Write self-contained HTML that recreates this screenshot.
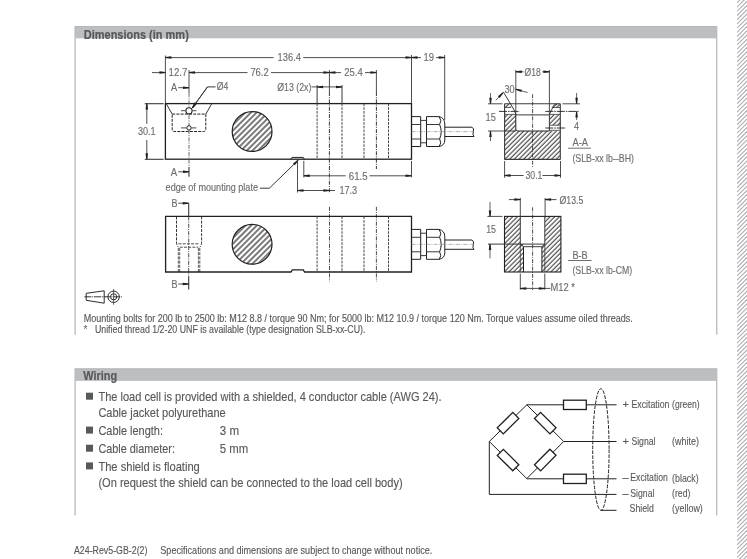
<!DOCTYPE html>
<html><head><meta charset="utf-8"><style>
html,body{margin:0;padding:0;background:#fff;}
svg{display:block;font-family:"Liberation Sans",sans-serif;will-change:transform;}
</style></head><body>
<svg width="747" height="559" viewBox="0 0 747 559">
<defs>
<pattern id="hatch" patternUnits="userSpaceOnUse" width="4" height="4" patternTransform="rotate(45)">
<line x1="1" y1="0" x2="1" y2="4" stroke="#231f20" stroke-width="1.2"/>
</pattern>
<pattern id="hatch2" patternUnits="userSpaceOnUse" width="3.3" height="3.3" patternTransform="rotate(45)">
<line x1="1" y1="0" x2="1" y2="3.3" stroke="#231f20" stroke-width="0.95"/>
</pattern>
<clipPath id="cs"><rect x="737" y="0" width="10" height="559"/></clipPath>
</defs>
<rect x="0" y="0" width="747" height="559" fill="#fff"/>
<g clip-path="url(#cs)"><line x1="737" y1="-9.6" x2="749" y2="-21.6" stroke="#a9abae" stroke-width="1.05"/><line x1="737" y1="-5.4" x2="749" y2="-17.4" stroke="#a9abae" stroke-width="1.05"/><line x1="737" y1="-1.2" x2="749" y2="-13.2" stroke="#a9abae" stroke-width="1.05"/><line x1="737" y1="3" x2="749" y2="-9" stroke="#a9abae" stroke-width="1.05"/><line x1="737" y1="7.2" x2="749" y2="-4.8" stroke="#a9abae" stroke-width="1.05"/><line x1="737" y1="11.4" x2="749" y2="-0.6" stroke="#a9abae" stroke-width="1.05"/><line x1="737" y1="15.6" x2="749" y2="3.6" stroke="#a9abae" stroke-width="1.05"/><line x1="737" y1="19.8" x2="749" y2="7.8" stroke="#a9abae" stroke-width="1.05"/><line x1="737" y1="24" x2="749" y2="12" stroke="#a9abae" stroke-width="1.05"/><line x1="737" y1="28.2" x2="749" y2="16.2" stroke="#a9abae" stroke-width="1.05"/><line x1="737" y1="32.4" x2="749" y2="20.4" stroke="#a9abae" stroke-width="1.05"/><line x1="737" y1="36.6" x2="749" y2="24.6" stroke="#a9abae" stroke-width="1.05"/><line x1="737" y1="40.8" x2="749" y2="28.8" stroke="#a9abae" stroke-width="1.05"/><line x1="737" y1="45" x2="749" y2="33" stroke="#a9abae" stroke-width="1.05"/><line x1="737" y1="49.2" x2="749" y2="37.2" stroke="#a9abae" stroke-width="1.05"/><line x1="737" y1="53.4" x2="749" y2="41.4" stroke="#a9abae" stroke-width="1.05"/><line x1="737" y1="57.6" x2="749" y2="45.6" stroke="#a9abae" stroke-width="1.05"/><line x1="737" y1="61.8" x2="749" y2="49.8" stroke="#a9abae" stroke-width="1.05"/><line x1="737" y1="66" x2="749" y2="54" stroke="#a9abae" stroke-width="1.05"/><line x1="737" y1="70.2" x2="749" y2="58.2" stroke="#a9abae" stroke-width="1.05"/><line x1="737" y1="74.4" x2="749" y2="62.4" stroke="#a9abae" stroke-width="1.05"/><line x1="737" y1="78.6" x2="749" y2="66.6" stroke="#a9abae" stroke-width="1.05"/><line x1="737" y1="82.8" x2="749" y2="70.8" stroke="#a9abae" stroke-width="1.05"/><line x1="737" y1="87" x2="749" y2="75" stroke="#a9abae" stroke-width="1.05"/><line x1="737" y1="91.2" x2="749" y2="79.2" stroke="#a9abae" stroke-width="1.05"/><line x1="737" y1="95.4" x2="749" y2="83.4" stroke="#a9abae" stroke-width="1.05"/><line x1="737" y1="99.6" x2="749" y2="87.6" stroke="#a9abae" stroke-width="1.05"/><line x1="737" y1="103.8" x2="749" y2="91.8" stroke="#a9abae" stroke-width="1.05"/><line x1="737" y1="108" x2="749" y2="96" stroke="#a9abae" stroke-width="1.05"/><line x1="737" y1="112.2" x2="749" y2="100.2" stroke="#a9abae" stroke-width="1.05"/><line x1="737" y1="116.4" x2="749" y2="104.4" stroke="#a9abae" stroke-width="1.05"/><line x1="737" y1="120.6" x2="749" y2="108.6" stroke="#a9abae" stroke-width="1.05"/><line x1="737" y1="124.8" x2="749" y2="112.8" stroke="#a9abae" stroke-width="1.05"/><line x1="737" y1="129" x2="749" y2="117" stroke="#a9abae" stroke-width="1.05"/><line x1="737" y1="133.2" x2="749" y2="121.2" stroke="#a9abae" stroke-width="1.05"/><line x1="737" y1="137.4" x2="749" y2="125.4" stroke="#a9abae" stroke-width="1.05"/><line x1="737" y1="141.6" x2="749" y2="129.6" stroke="#a9abae" stroke-width="1.05"/><line x1="737" y1="145.8" x2="749" y2="133.8" stroke="#a9abae" stroke-width="1.05"/><line x1="737" y1="150" x2="749" y2="138" stroke="#a9abae" stroke-width="1.05"/><line x1="737" y1="154.2" x2="749" y2="142.2" stroke="#a9abae" stroke-width="1.05"/><line x1="737" y1="158.4" x2="749" y2="146.4" stroke="#a9abae" stroke-width="1.05"/><line x1="737" y1="162.6" x2="749" y2="150.6" stroke="#a9abae" stroke-width="1.05"/><line x1="737" y1="166.8" x2="749" y2="154.8" stroke="#a9abae" stroke-width="1.05"/><line x1="737" y1="171" x2="749" y2="159" stroke="#a9abae" stroke-width="1.05"/><line x1="737" y1="175.2" x2="749" y2="163.2" stroke="#a9abae" stroke-width="1.05"/><line x1="737" y1="179.4" x2="749" y2="167.4" stroke="#a9abae" stroke-width="1.05"/><line x1="737" y1="183.6" x2="749" y2="171.6" stroke="#a9abae" stroke-width="1.05"/><line x1="737" y1="187.8" x2="749" y2="175.8" stroke="#a9abae" stroke-width="1.05"/><line x1="737" y1="192" x2="749" y2="180" stroke="#a9abae" stroke-width="1.05"/><line x1="737" y1="196.2" x2="749" y2="184.2" stroke="#a9abae" stroke-width="1.05"/><line x1="737" y1="200.4" x2="749" y2="188.4" stroke="#a9abae" stroke-width="1.05"/><line x1="737" y1="204.6" x2="749" y2="192.6" stroke="#a9abae" stroke-width="1.05"/><line x1="737" y1="208.8" x2="749" y2="196.8" stroke="#a9abae" stroke-width="1.05"/><line x1="737" y1="213" x2="749" y2="201" stroke="#a9abae" stroke-width="1.05"/><line x1="737" y1="217.2" x2="749" y2="205.2" stroke="#a9abae" stroke-width="1.05"/><line x1="737" y1="221.4" x2="749" y2="209.4" stroke="#a9abae" stroke-width="1.05"/><line x1="737" y1="225.6" x2="749" y2="213.6" stroke="#a9abae" stroke-width="1.05"/><line x1="737" y1="229.8" x2="749" y2="217.8" stroke="#a9abae" stroke-width="1.05"/><line x1="737" y1="234" x2="749" y2="222" stroke="#a9abae" stroke-width="1.05"/><line x1="737" y1="238.2" x2="749" y2="226.2" stroke="#a9abae" stroke-width="1.05"/><line x1="737" y1="242.4" x2="749" y2="230.4" stroke="#a9abae" stroke-width="1.05"/><line x1="737" y1="246.6" x2="749" y2="234.6" stroke="#a9abae" stroke-width="1.05"/><line x1="737" y1="250.8" x2="749" y2="238.8" stroke="#a9abae" stroke-width="1.05"/><line x1="737" y1="255" x2="749" y2="243" stroke="#a9abae" stroke-width="1.05"/><line x1="737" y1="259.2" x2="749" y2="247.2" stroke="#a9abae" stroke-width="1.05"/><line x1="737" y1="263.4" x2="749" y2="251.4" stroke="#a9abae" stroke-width="1.05"/><line x1="737" y1="267.6" x2="749" y2="255.6" stroke="#a9abae" stroke-width="1.05"/><line x1="737" y1="271.8" x2="749" y2="259.8" stroke="#a9abae" stroke-width="1.05"/><line x1="737" y1="276" x2="749" y2="264" stroke="#a9abae" stroke-width="1.05"/><line x1="737" y1="280.2" x2="749" y2="268.2" stroke="#a9abae" stroke-width="1.05"/><line x1="737" y1="284.4" x2="749" y2="272.4" stroke="#a9abae" stroke-width="1.05"/><line x1="737" y1="288.6" x2="749" y2="276.6" stroke="#a9abae" stroke-width="1.05"/><line x1="737" y1="292.8" x2="749" y2="280.8" stroke="#a9abae" stroke-width="1.05"/><line x1="737" y1="297" x2="749" y2="285" stroke="#a9abae" stroke-width="1.05"/><line x1="737" y1="301.2" x2="749" y2="289.2" stroke="#a9abae" stroke-width="1.05"/><line x1="737" y1="305.4" x2="749" y2="293.4" stroke="#a9abae" stroke-width="1.05"/><line x1="737" y1="309.6" x2="749" y2="297.6" stroke="#a9abae" stroke-width="1.05"/><line x1="737" y1="313.8" x2="749" y2="301.8" stroke="#a9abae" stroke-width="1.05"/><line x1="737" y1="318" x2="749" y2="306" stroke="#a9abae" stroke-width="1.05"/><line x1="737" y1="322.2" x2="749" y2="310.2" stroke="#a9abae" stroke-width="1.05"/><line x1="737" y1="326.4" x2="749" y2="314.4" stroke="#a9abae" stroke-width="1.05"/><line x1="737" y1="330.6" x2="749" y2="318.6" stroke="#a9abae" stroke-width="1.05"/><line x1="737" y1="334.8" x2="749" y2="322.8" stroke="#a9abae" stroke-width="1.05"/><line x1="737" y1="339" x2="749" y2="327" stroke="#a9abae" stroke-width="1.05"/><line x1="737" y1="343.2" x2="749" y2="331.2" stroke="#a9abae" stroke-width="1.05"/><line x1="737" y1="347.4" x2="749" y2="335.4" stroke="#a9abae" stroke-width="1.05"/><line x1="737" y1="351.6" x2="749" y2="339.6" stroke="#a9abae" stroke-width="1.05"/><line x1="737" y1="355.8" x2="749" y2="343.8" stroke="#a9abae" stroke-width="1.05"/><line x1="737" y1="360" x2="749" y2="348" stroke="#a9abae" stroke-width="1.05"/><line x1="737" y1="364.2" x2="749" y2="352.2" stroke="#a9abae" stroke-width="1.05"/><line x1="737" y1="368.4" x2="749" y2="356.4" stroke="#a9abae" stroke-width="1.05"/><line x1="737" y1="372.6" x2="749" y2="360.6" stroke="#a9abae" stroke-width="1.05"/><line x1="737" y1="376.8" x2="749" y2="364.8" stroke="#a9abae" stroke-width="1.05"/><line x1="737" y1="381" x2="749" y2="369" stroke="#a9abae" stroke-width="1.05"/><line x1="737" y1="385.2" x2="749" y2="373.2" stroke="#a9abae" stroke-width="1.05"/><line x1="737" y1="389.4" x2="749" y2="377.4" stroke="#a9abae" stroke-width="1.05"/><line x1="737" y1="393.6" x2="749" y2="381.6" stroke="#a9abae" stroke-width="1.05"/><line x1="737" y1="397.8" x2="749" y2="385.8" stroke="#a9abae" stroke-width="1.05"/><line x1="737" y1="402" x2="749" y2="390" stroke="#a9abae" stroke-width="1.05"/><line x1="737" y1="406.2" x2="749" y2="394.2" stroke="#a9abae" stroke-width="1.05"/><line x1="737" y1="410.4" x2="749" y2="398.4" stroke="#a9abae" stroke-width="1.05"/><line x1="737" y1="414.6" x2="749" y2="402.6" stroke="#a9abae" stroke-width="1.05"/><line x1="737" y1="418.8" x2="749" y2="406.8" stroke="#a9abae" stroke-width="1.05"/><line x1="737" y1="423" x2="749" y2="411" stroke="#a9abae" stroke-width="1.05"/><line x1="737" y1="427.2" x2="749" y2="415.2" stroke="#a9abae" stroke-width="1.05"/><line x1="737" y1="431.4" x2="749" y2="419.4" stroke="#a9abae" stroke-width="1.05"/><line x1="737" y1="435.6" x2="749" y2="423.6" stroke="#a9abae" stroke-width="1.05"/><line x1="737" y1="439.8" x2="749" y2="427.8" stroke="#a9abae" stroke-width="1.05"/><line x1="737" y1="444" x2="749" y2="432" stroke="#a9abae" stroke-width="1.05"/><line x1="737" y1="448.2" x2="749" y2="436.2" stroke="#a9abae" stroke-width="1.05"/><line x1="737" y1="452.4" x2="749" y2="440.4" stroke="#a9abae" stroke-width="1.05"/><line x1="737" y1="456.6" x2="749" y2="444.6" stroke="#a9abae" stroke-width="1.05"/><line x1="737" y1="460.8" x2="749" y2="448.8" stroke="#a9abae" stroke-width="1.05"/><line x1="737" y1="465" x2="749" y2="453" stroke="#a9abae" stroke-width="1.05"/><line x1="737" y1="469.2" x2="749" y2="457.2" stroke="#a9abae" stroke-width="1.05"/><line x1="737" y1="473.4" x2="749" y2="461.4" stroke="#a9abae" stroke-width="1.05"/><line x1="737" y1="477.6" x2="749" y2="465.6" stroke="#a9abae" stroke-width="1.05"/><line x1="737" y1="481.8" x2="749" y2="469.8" stroke="#a9abae" stroke-width="1.05"/><line x1="737" y1="486" x2="749" y2="474" stroke="#a9abae" stroke-width="1.05"/><line x1="737" y1="490.2" x2="749" y2="478.2" stroke="#a9abae" stroke-width="1.05"/><line x1="737" y1="494.4" x2="749" y2="482.4" stroke="#a9abae" stroke-width="1.05"/><line x1="737" y1="498.6" x2="749" y2="486.6" stroke="#a9abae" stroke-width="1.05"/><line x1="737" y1="502.8" x2="749" y2="490.8" stroke="#a9abae" stroke-width="1.05"/><line x1="737" y1="507" x2="749" y2="495" stroke="#a9abae" stroke-width="1.05"/><line x1="737" y1="511.2" x2="749" y2="499.2" stroke="#a9abae" stroke-width="1.05"/><line x1="737" y1="515.4" x2="749" y2="503.4" stroke="#a9abae" stroke-width="1.05"/><line x1="737" y1="519.6" x2="749" y2="507.6" stroke="#a9abae" stroke-width="1.05"/><line x1="737" y1="523.8" x2="749" y2="511.8" stroke="#a9abae" stroke-width="1.05"/><line x1="737" y1="528" x2="749" y2="516" stroke="#a9abae" stroke-width="1.05"/><line x1="737" y1="532.2" x2="749" y2="520.2" stroke="#a9abae" stroke-width="1.05"/><line x1="737" y1="536.4" x2="749" y2="524.4" stroke="#a9abae" stroke-width="1.05"/><line x1="737" y1="540.6" x2="749" y2="528.6" stroke="#a9abae" stroke-width="1.05"/><line x1="737" y1="544.8" x2="749" y2="532.8" stroke="#a9abae" stroke-width="1.05"/><line x1="737" y1="549" x2="749" y2="537" stroke="#a9abae" stroke-width="1.05"/><line x1="737" y1="553.2" x2="749" y2="541.2" stroke="#a9abae" stroke-width="1.05"/><line x1="737" y1="557.4" x2="749" y2="545.4" stroke="#a9abae" stroke-width="1.05"/><line x1="737" y1="561.6" x2="749" y2="549.6" stroke="#a9abae" stroke-width="1.05"/><line x1="737" y1="565.8" x2="749" y2="553.8" stroke="#a9abae" stroke-width="1.05"/><line x1="737" y1="570" x2="749" y2="558" stroke="#a9abae" stroke-width="1.05"/><line x1="737" y1="574.2" x2="749" y2="562.2" stroke="#a9abae" stroke-width="1.05"/><line x1="737" y1="578.4" x2="749" y2="566.4" stroke="#a9abae" stroke-width="1.05"/><line x1="737" y1="582.6" x2="749" y2="570.6" stroke="#a9abae" stroke-width="1.05"/></g>
<rect x="75" y="26" width="642" height="12.3" fill="#bcbec0"/>
<line x1="75.1" y1="26" x2="75.1" y2="334.8" stroke="#bcbec0" stroke-width="1.4" stroke-linecap="butt"/>
<line x1="716.7" y1="26" x2="716.7" y2="334.8" stroke="#bcbec0" stroke-width="1.4" stroke-linecap="butt"/>
<line x1="75" y1="26.5" x2="717" y2="26.5" stroke="#b5b7ba" stroke-width="1" stroke-linecap="butt"/>
<text x="83.8" y="38.8" font-size="13.2" fill="#58595b" font-weight="bold" text-anchor="start" textLength="105" lengthAdjust="spacingAndGlyphs" stroke="#58595b" stroke-width="0.2">Dimensions (in mm)</text>
<rect x="75" y="368.4" width="642" height="12.5" fill="#bcbec0"/>
<line x1="75.1" y1="368.4" x2="75.1" y2="515.5" stroke="#bcbec0" stroke-width="1.4" stroke-linecap="butt"/>
<line x1="716.7" y1="368.4" x2="716.7" y2="515.5" stroke="#bcbec0" stroke-width="1.4" stroke-linecap="butt"/>
<line x1="75" y1="368.9" x2="717" y2="368.9" stroke="#b5b7ba" stroke-width="1" stroke-linecap="butt"/>
<text x="83.3" y="380.3" font-size="13.4" fill="#58595b" font-weight="bold" text-anchor="start" textLength="33.9" lengthAdjust="spacingAndGlyphs" stroke="#58595b" stroke-width="0.2">Wiring</text>
<rect x="165.4" y="103.6" width="246.1" height="55.6" fill="none" stroke="#231f20" stroke-width="1.3"/>
<circle cx="252.1" cy="131.5" r="19.9" fill="url(#hatch)" stroke="#231f20" stroke-width="1.2"/>
<line x1="317.1" y1="103.6" x2="317.1" y2="159.2" stroke="#454547" stroke-width="1.0" stroke-dasharray="2.6,1.1" stroke-linecap="butt"/>
<line x1="342" y1="103.6" x2="342" y2="159.2" stroke="#454547" stroke-width="1.0" stroke-dasharray="2.6,1.1" stroke-linecap="butt"/>
<line x1="364" y1="103.6" x2="364" y2="159.2" stroke="#454547" stroke-width="1.0" stroke-dasharray="2.6,1.1" stroke-linecap="butt"/>
<line x1="388.5" y1="103.6" x2="388.5" y2="159.2" stroke="#454547" stroke-width="1.0" stroke-dasharray="2.6,1.1" stroke-linecap="butt"/>
<polyline points="411.5,116.6 420.7,116.6 420.7,146.5 411.5,146.5" fill="none" stroke="#231f20" stroke-width="1.0" stroke-linejoin="miter"/>
<line x1="411.5" y1="124.5" x2="420.7" y2="124.5" stroke="#3a3a3c" stroke-width="1.0" stroke-linecap="butt"/>
<line x1="411.5" y1="139" x2="420.7" y2="139" stroke="#3a3a3c" stroke-width="1.0" stroke-linecap="butt"/>
<line x1="420.7" y1="120.4" x2="426.5" y2="120.4" stroke="#3a3a3c" stroke-width="1.0" stroke-linecap="butt"/>
<line x1="420.7" y1="142.8" x2="426.5" y2="142.8" stroke="#3a3a3c" stroke-width="1.0" stroke-linecap="butt"/>
<path d="M426.5,116.6 H439.1 Q442.3,120.5 439.6,124.5 Q442.8,131.5 439.6,139 Q442.3,143 439.1,146.5 H426.5 Z" fill="none" stroke="#231f20" stroke-width="1.0"/>
<path d="M439.1,116.6 Q444.8,118 444.8,124 V140 Q444.8,145.5 439.1,146.5" fill="none" stroke="#231f20" stroke-width="1.0"/>
<line x1="426.5" y1="124.5" x2="439.6" y2="124.5" stroke="#3a3a3c" stroke-width="1.0" stroke-linecap="butt"/>
<line x1="426.5" y1="139" x2="439.6" y2="139" stroke="#3a3a3c" stroke-width="1.0" stroke-linecap="butt"/>
<path d="M444.8,127.2 H472 Q474.5,128.5 473.3,131.8 Q472.3,135 474,136.5 H444.8" fill="none" stroke="#231f20" stroke-width="1.0"/>
<line x1="411.5" y1="131.6" x2="474" y2="131.6" stroke="#808285" stroke-width="0.6" stroke-dasharray="4,1.2,1,1.2" stroke-linecap="butt"/>
<polyline points="166.2,103.6 172.2,114.1" fill="none" stroke="#231f20" stroke-width="0.9" stroke-linejoin="miter"/>
<polyline points="211.8,103.6 205.8,114.1" fill="none" stroke="#231f20" stroke-width="0.9" stroke-linejoin="miter"/>
<path d="M172.2,114.1 H205.8 V129.3 Q205.8,131.5 203.6,131.5 H174.4 Q172.2,131.5 172.2,129.3 Z" fill="none" stroke="#231f20" stroke-width="1.0" stroke-dasharray="3,1.2"/>
<line x1="181" y1="110.7" x2="185.5" y2="110.7" stroke="#3a3a3c" stroke-width="0.9" stroke-linecap="butt"/>
<line x1="192.5" y1="110.7" x2="196.4" y2="110.7" stroke="#3a3a3c" stroke-width="0.9" stroke-linecap="butt"/>
<line x1="181" y1="127.9" x2="186.5" y2="127.9" stroke="#3a3a3c" stroke-width="0.9" stroke-linecap="butt"/>
<line x1="191.5" y1="127.9" x2="196.4" y2="127.9" stroke="#3a3a3c" stroke-width="0.9" stroke-linecap="butt"/>
<path d="M291,159.2 L292,157.4 H303.3 L304.3,159.2" fill="none" stroke="#231f20" stroke-width="1.0"/>
<line x1="189" y1="70" x2="189" y2="93" stroke="#3a3a3c" stroke-width="0.9" stroke-linecap="butt"/>
<line x1="189" y1="93" x2="189" y2="167" stroke="#58595b" stroke-width="0.9" stroke-dasharray="4,1.2,1,1.2" stroke-linecap="butt"/>
<line x1="189" y1="167" x2="189" y2="176.7" stroke="#3a3a3c" stroke-width="1.1" stroke-linecap="butt"/>
<line x1="329.4" y1="70" x2="329.4" y2="92" stroke="#3a3a3c" stroke-width="0.9" stroke-linecap="butt"/>
<line x1="329.4" y1="92" x2="329.4" y2="192.5" stroke="#231f20" stroke-width="0.9" stroke-dasharray="4,1.2,1,1.2" stroke-linecap="butt"/>
<line x1="376.4" y1="70" x2="376.4" y2="92" stroke="#3a3a3c" stroke-width="0.9" stroke-linecap="butt"/>
<line x1="376.4" y1="92" x2="376.4" y2="169" stroke="#231f20" stroke-width="0.9" stroke-dasharray="4,1.2,1,1.2" stroke-linecap="butt"/>
<line x1="165.4" y1="55.5" x2="165.4" y2="103.6" stroke="#3a3a3c" stroke-width="0.9" stroke-linecap="butt"/>
<line x1="411.5" y1="55" x2="411.5" y2="103.6" stroke="#3a3a3c" stroke-width="0.9" stroke-linecap="butt"/>
<line x1="444.7" y1="55" x2="444.7" y2="120" stroke="#3a3a3c" stroke-width="0.9" stroke-linecap="butt"/>
<line x1="317.1" y1="85.1" x2="317.1" y2="103.6" stroke="#3a3a3c" stroke-width="1.0" stroke-linecap="butt"/>
<line x1="342" y1="85.1" x2="342" y2="103.6" stroke="#3a3a3c" stroke-width="1.0" stroke-linecap="butt"/>
<line x1="144.8" y1="103.7" x2="163.6" y2="103.7" stroke="#3a3a3c" stroke-width="1.1" stroke-linecap="butt"/>
<line x1="144.8" y1="159.3" x2="163.6" y2="159.3" stroke="#3a3a3c" stroke-width="1.1" stroke-linecap="butt"/>
<line x1="165.4" y1="57.6" x2="273.6" y2="57.6" stroke="#3a3a3c" stroke-width="0.9" stroke-linecap="butt"/>
<line x1="303.2" y1="57.6" x2="411.5" y2="57.6" stroke="#3a3a3c" stroke-width="0.9" stroke-linecap="butt"/>
<polygon points="165.4,57.1 171.4,56.35 171.4,58.85 165.4,58.1" fill="#231f20"/>
<polygon points="411.5,58.1 405.5,58.85 405.5,56.35 411.5,57.1" fill="#231f20"/>
<text x="277.6" y="61.3" font-size="10.5" fill="#6d6e71" font-weight="normal" text-anchor="start" textLength="23.3" lengthAdjust="spacingAndGlyphs" stroke="#6d6e71" stroke-width="0.15">136.4</text>
<line x1="411.5" y1="57.6" x2="421" y2="57.6" stroke="#3a3a3c" stroke-width="0.9" stroke-linecap="butt"/>
<polygon points="411.5,57.1 417.5,56.35 417.5,58.85 411.5,58.1" fill="#231f20"/>
<line x1="436" y1="57.6" x2="444.7" y2="57.6" stroke="#3a3a3c" stroke-width="0.9" stroke-linecap="butt"/>
<polygon points="444.7,58.1 438.7,58.85 438.7,56.35 444.7,57.1" fill="#231f20"/>
<text x="423.5" y="61.3" font-size="10.5" fill="#6d6e71" font-weight="normal" text-anchor="start" textLength="10.5" lengthAdjust="spacingAndGlyphs" stroke="#6d6e71" stroke-width="0.15">19</text>
<line x1="152" y1="72.6" x2="165.4" y2="72.6" stroke="#3a3a3c" stroke-width="0.9" stroke-linecap="butt"/>
<polygon points="165.4,73.1 159.4,73.85 159.4,71.35 165.4,72.1" fill="#231f20"/>
<text x="168.5" y="76.3" font-size="10.5" fill="#6d6e71" font-weight="normal" text-anchor="start" textLength="18.9" lengthAdjust="spacingAndGlyphs" stroke="#6d6e71" stroke-width="0.15">12.7</text>
<line x1="189" y1="72.6" x2="247.5" y2="72.6" stroke="#3a3a3c" stroke-width="0.9" stroke-linecap="butt"/>
<polygon points="189,72.1 195,71.35 195,73.85 189,73.1" fill="#231f20"/>
<text x="250.4" y="76.3" font-size="10.5" fill="#6d6e71" font-weight="normal" text-anchor="start" textLength="18.3" lengthAdjust="spacingAndGlyphs" stroke="#6d6e71" stroke-width="0.15">76.2</text>
<line x1="271" y1="72.6" x2="329.4" y2="72.6" stroke="#3a3a3c" stroke-width="0.9" stroke-linecap="butt"/>
<polygon points="329.4,73.1 323.4,73.85 323.4,71.35 329.4,72.1" fill="#231f20"/>
<line x1="329.4" y1="72.6" x2="341.1" y2="72.6" stroke="#3a3a3c" stroke-width="0.9" stroke-linecap="butt"/>
<polygon points="329.4,72.1 335.4,71.35 335.4,73.85 329.4,73.1" fill="#231f20"/>
<text x="344.3" y="76.3" font-size="10.5" fill="#6d6e71" font-weight="normal" text-anchor="start" textLength="18.4" lengthAdjust="spacingAndGlyphs" stroke="#6d6e71" stroke-width="0.15">25.4</text>
<line x1="365" y1="72.6" x2="376.4" y2="72.6" stroke="#3a3a3c" stroke-width="0.9" stroke-linecap="butt"/>
<polygon points="376.4,73.1 370.4,73.85 370.4,71.35 376.4,72.1" fill="#231f20"/>
<text x="277.2" y="90.6" font-size="10.5" fill="#6d6e71" font-weight="normal" text-anchor="start" textLength="34.2" lengthAdjust="spacingAndGlyphs" stroke="#6d6e71" stroke-width="0.15">Ø13 (2x)</text>
<line x1="311.5" y1="86.9" x2="342" y2="86.9" stroke="#3a3a3c" stroke-width="0.9" stroke-linecap="butt"/>
<polygon points="317.1,86.4 323.1,85.65 323.1,88.15 317.1,87.4" fill="#231f20"/>
<polygon points="342,87.4 336,88.15 336,85.65 342,86.4" fill="#231f20"/>
<text x="216.8" y="90.3" font-size="10.5" fill="#6d6e71" font-weight="normal" text-anchor="start" textLength="11.5" lengthAdjust="spacingAndGlyphs" stroke="#6d6e71" stroke-width="0.15">Ø4</text>
<polyline points="215.5,86.9 207.5,86.9 192.3,108" fill="none" stroke="#231f20" stroke-width="0.9" stroke-linejoin="miter"/>
<polygon points="191.89,107.71 194.79,102.4 196.82,103.86 192.71,108.29" fill="#231f20"/>
<text x="171.1" y="91.4" font-size="10.5" fill="#6d6e71" font-weight="normal" text-anchor="start" textLength="6.2" lengthAdjust="spacingAndGlyphs" stroke="#6d6e71" stroke-width="0.15">A</text>
<line x1="178.3" y1="87.7" x2="189" y2="87.7" stroke="#3a3a3c" stroke-width="0.9" stroke-linecap="butt"/>
<polygon points="189,88.2 183,88.95 183,86.45 189,87.2" fill="#231f20"/>
<text x="170.8" y="175.5" font-size="10.5" fill="#6d6e71" font-weight="normal" text-anchor="start" textLength="6.4" lengthAdjust="spacingAndGlyphs" stroke="#6d6e71" stroke-width="0.15">A</text>
<line x1="178.3" y1="171.8" x2="189" y2="171.8" stroke="#3a3a3c" stroke-width="0.9" stroke-linecap="butt"/>
<polygon points="189,172.3 183,173.05 183,170.55 189,171.3" fill="#231f20"/>
<line x1="146.8" y1="103.6" x2="146.8" y2="123.9" stroke="#3a3a3c" stroke-width="0.9" stroke-linecap="butt"/>
<line x1="146.8" y1="140" x2="146.8" y2="159.2" stroke="#3a3a3c" stroke-width="0.9" stroke-linecap="butt"/>
<polygon points="147.3,103.6 148.05,109.6 145.55,109.6 146.3,103.6" fill="#231f20"/>
<polygon points="146.3,159.2 145.55,153.2 148.05,153.2 147.3,159.2" fill="#231f20"/>
<text x="137.9" y="134.8" font-size="10.5" fill="#6d6e71" font-weight="normal" text-anchor="start" textLength="17.7" lengthAdjust="spacingAndGlyphs" stroke="#6d6e71" stroke-width="0.15">30.1</text>
<text x="165.6" y="190.8" font-size="10.2" fill="#6d6e71" font-weight="normal" text-anchor="start" textLength="92.4" lengthAdjust="spacingAndGlyphs" stroke="#6d6e71" stroke-width="0.15">edge of mounting plate</text>
<polyline points="260,188.2 269.4,188.2 298.2,160.2" fill="none" stroke="#231f20" stroke-width="0.9" stroke-linejoin="miter"/>
<polygon points="298.55,160.56 294.77,165.28 293.03,163.49 297.85,159.84" fill="#231f20"/>
<line x1="303.8" y1="160.8" x2="303.8" y2="177.4" stroke="#3a3a3c" stroke-width="0.9" stroke-linecap="butt"/>
<line x1="411.5" y1="161" x2="411.5" y2="177.4" stroke="#3a3a3c" stroke-width="0.9" stroke-linecap="butt"/>
<line x1="303.8" y1="175.8" x2="345.7" y2="175.8" stroke="#3a3a3c" stroke-width="0.9" stroke-linecap="butt"/>
<line x1="369.5" y1="175.8" x2="411.5" y2="175.8" stroke="#3a3a3c" stroke-width="0.9" stroke-linecap="butt"/>
<polygon points="303.8,175.3 309.8,174.55 309.8,177.05 303.8,176.3" fill="#231f20"/>
<polygon points="411.5,176.3 405.5,177.05 405.5,174.55 411.5,175.3" fill="#231f20"/>
<text x="348.8" y="179.5" font-size="10.5" fill="#6d6e71" font-weight="normal" text-anchor="start" textLength="18.7" lengthAdjust="spacingAndGlyphs" stroke="#6d6e71" stroke-width="0.15">61.5</text>
<line x1="297.5" y1="160.8" x2="297.5" y2="192.5" stroke="#3a3a3c" stroke-width="0.9" stroke-linecap="butt"/>
<line x1="297.5" y1="190.5" x2="335" y2="190.5" stroke="#3a3a3c" stroke-width="0.9" stroke-linecap="butt"/>
<polygon points="297.5,190 303.5,189.25 303.5,191.75 297.5,191" fill="#231f20"/>
<polygon points="329.4,191 323.4,191.75 323.4,189.25 329.4,190" fill="#231f20"/>
<text x="339.4" y="193.8" font-size="10.5" fill="#6d6e71" font-weight="normal" text-anchor="start" textLength="17.8" lengthAdjust="spacingAndGlyphs" stroke="#6d6e71" stroke-width="0.15">17.3</text>
<circle cx="189" cy="110.8" r="3.1" fill="#fff" stroke="#231f20" stroke-width="1.1"/>
<circle cx="189" cy="127.9" r="2.2" fill="#fff" stroke="#231f20" stroke-width="1.0"/>
<line x1="192.3" y1="108" x2="207.5" y2="86.9" stroke="#3a3a3c" stroke-width="1.0" stroke-linecap="butt"/>
<polygon points="191.89,107.71 194.79,102.4 196.82,103.86 192.71,108.29" fill="#231f20"/>
<path d="M165.6,216.4 H411.5 V272 H304.6 L303.3,269.9 H292.3 L291,272 H165.6 Z" fill="none" stroke="#231f20" stroke-width="1.3"/>
<circle cx="252.1" cy="244.3" r="19.9" fill="url(#hatch)" stroke="#231f20" stroke-width="1.2"/>
<line x1="317.1" y1="216.4" x2="317.1" y2="272" stroke="#454547" stroke-width="1.0" stroke-dasharray="2.6,1.1" stroke-linecap="butt"/>
<line x1="342" y1="216.4" x2="342" y2="272" stroke="#454547" stroke-width="1.0" stroke-dasharray="2.6,1.1" stroke-linecap="butt"/>
<line x1="364" y1="216.4" x2="364" y2="272" stroke="#454547" stroke-width="1.0" stroke-dasharray="2.6,1.1" stroke-linecap="butt"/>
<line x1="388.5" y1="216.4" x2="388.5" y2="272" stroke="#454547" stroke-width="1.0" stroke-dasharray="2.6,1.1" stroke-linecap="butt"/>
<polyline points="411.5,229.4 420.7,229.4 420.7,259.3 411.5,259.3" fill="none" stroke="#231f20" stroke-width="1.0" stroke-linejoin="miter"/>
<line x1="411.5" y1="237.3" x2="420.7" y2="237.3" stroke="#3a3a3c" stroke-width="1.0" stroke-linecap="butt"/>
<line x1="411.5" y1="251.8" x2="420.7" y2="251.8" stroke="#3a3a3c" stroke-width="1.0" stroke-linecap="butt"/>
<line x1="420.7" y1="233.2" x2="426.5" y2="233.2" stroke="#3a3a3c" stroke-width="1.0" stroke-linecap="butt"/>
<line x1="420.7" y1="255.6" x2="426.5" y2="255.6" stroke="#3a3a3c" stroke-width="1.0" stroke-linecap="butt"/>
<path d="M426.5,229.4 H439.1 Q442.3,233.3 439.6,237.3 Q442.8,244.3 439.6,251.8 Q442.3,255.8 439.1,259.3 H426.5 Z" fill="none" stroke="#231f20" stroke-width="1.0"/>
<path d="M439.1,229.4 Q444.8,230.8 444.8,236.8 V252.8 Q444.8,258.3 439.1,259.3" fill="none" stroke="#231f20" stroke-width="1.0"/>
<line x1="426.5" y1="237.3" x2="439.6" y2="237.3" stroke="#3a3a3c" stroke-width="1.0" stroke-linecap="butt"/>
<line x1="426.5" y1="251.8" x2="439.6" y2="251.8" stroke="#3a3a3c" stroke-width="1.0" stroke-linecap="butt"/>
<path d="M444.8,240 H472 Q474.5,241.3 473.3,244.6 Q472.3,247.8 474,249.3 H444.8" fill="none" stroke="#231f20" stroke-width="1.0"/>
<line x1="411.5" y1="244.4" x2="474" y2="244.4" stroke="#808285" stroke-width="0.6" stroke-dasharray="4,1.2,1,1.2" stroke-linecap="butt"/>
<path d="M176.5,216.4 V242 Q176.5,245.5 178.3,247.2" fill="none" stroke="#231f20" stroke-width="0.9" stroke-dasharray="3,1.2"/>
<path d="M201.6,216.4 V242 Q201.6,245.5 199.8,247.2" fill="none" stroke="#231f20" stroke-width="0.9" stroke-dasharray="3,1.2"/>
<line x1="178.3" y1="248" x2="178.3" y2="272" stroke="#231f20" stroke-width="0.75" stroke-dasharray="3,1.2" stroke-linecap="butt"/>
<line x1="199.8" y1="248" x2="199.8" y2="272" stroke="#231f20" stroke-width="0.75" stroke-dasharray="3,1.2" stroke-linecap="butt"/>
<line x1="179.7" y1="248" x2="179.7" y2="272" stroke="#231f20" stroke-width="0.75" stroke-dasharray="3,1.2" stroke-linecap="butt"/>
<line x1="198.4" y1="248" x2="198.4" y2="272" stroke="#231f20" stroke-width="0.75" stroke-dasharray="3,1.2" stroke-linecap="butt"/>
<line x1="178.5" y1="243.8" x2="199.6" y2="243.8" stroke="#231f20" stroke-width="0.8" stroke-dasharray="3,1.2" stroke-linecap="butt"/>
<line x1="179.8" y1="247.2" x2="198.3" y2="247.2" stroke="#231f20" stroke-width="0.8" stroke-dasharray="3,1.2" stroke-linecap="butt"/>
<line x1="188.7" y1="203.2" x2="188.7" y2="216.4" stroke="#3a3a3c" stroke-width="1.1" stroke-linecap="butt"/>
<line x1="188.7" y1="216.4" x2="188.7" y2="277" stroke="#231f20" stroke-width="0.8" stroke-dasharray="4,1.2,1,1.2" stroke-linecap="butt"/>
<line x1="188.7" y1="277" x2="188.7" y2="289.4" stroke="#3a3a3c" stroke-width="1.1" stroke-linecap="butt"/>
<line x1="329.5" y1="206.8" x2="329.5" y2="281.4" stroke="#231f20" stroke-width="0.8" stroke-dasharray="4,1.2,1,1.2" stroke-linecap="butt"/>
<line x1="376.4" y1="206.8" x2="376.4" y2="281.4" stroke="#231f20" stroke-width="0.8" stroke-dasharray="4,1.2,1,1.2" stroke-linecap="butt"/>
<text x="171.4" y="206.9" font-size="10.5" fill="#6d6e71" font-weight="normal" text-anchor="start" textLength="6" lengthAdjust="spacingAndGlyphs" stroke="#6d6e71" stroke-width="0.15">B</text>
<line x1="178.3" y1="203.2" x2="188.7" y2="203.2" stroke="#3a3a3c" stroke-width="0.9" stroke-linecap="butt"/>
<polygon points="188.7,203.7 182.7,204.45 182.7,201.95 188.7,202.7" fill="#231f20"/>
<text x="171.4" y="287.7" font-size="10.5" fill="#6d6e71" font-weight="normal" text-anchor="start" textLength="6" lengthAdjust="spacingAndGlyphs" stroke="#6d6e71" stroke-width="0.15">B</text>
<line x1="178.3" y1="284" x2="188.7" y2="284" stroke="#3a3a3c" stroke-width="0.9" stroke-linecap="butt"/>
<polygon points="188.7,284.5 182.7,285.25 182.7,282.75 188.7,283.5" fill="#231f20"/>
<path d="M504.6,103.8 H509.2 L511.2,107.5 H504.6 Z M553.6,103.8 H560.3 V107.5 H551.8 Z M504.6,114.4 H515.8 V131 H504.6 Z M549.4,114.4 H560.3 V125.2 H549.4 Z M504.6,131 H560.3 V159.4 H504.6 Z" fill="url(#hatch2)"/>
<line x1="488" y1="103.8" x2="502.5" y2="103.8" stroke="#3a3a3c" stroke-width="0.9" stroke-linecap="butt"/>
<line x1="504.6" y1="103.8" x2="560.3" y2="103.8" stroke="#3a3a3c" stroke-width="1.1" stroke-linecap="butt"/>
<line x1="562.5" y1="103.8" x2="580" y2="103.8" stroke="#3a3a3c" stroke-width="0.9" stroke-linecap="butt"/>
<line x1="504.6" y1="103.8" x2="504.6" y2="159.4" stroke="#3a3a3c" stroke-width="1.1" stroke-linecap="butt"/>
<line x1="560.3" y1="103.8" x2="560.3" y2="159.4" stroke="#3a3a3c" stroke-width="1.1" stroke-linecap="butt"/>
<line x1="504.6" y1="159.4" x2="560.3" y2="159.4" stroke="#3a3a3c" stroke-width="1.1" stroke-linecap="butt"/>
<path d="M515.8,114.9 V129 Q515.8,131 517.8,131 H549.4" fill="none" stroke="#231f20" stroke-width="1.0"/>
<line x1="488" y1="131" x2="504.6" y2="131" stroke="#3a3a3c" stroke-width="0.9" stroke-linecap="butt"/>
<line x1="549.4" y1="114.9" x2="549.4" y2="131" stroke="#3a3a3c" stroke-width="1.0" stroke-linecap="butt"/>
<line x1="504.6" y1="131" x2="515.8" y2="131" stroke="#3a3a3c" stroke-width="1.0" stroke-linecap="butt"/>
<line x1="515.8" y1="114.9" x2="549.4" y2="114.9" stroke="#3a3a3c" stroke-width="1.0" stroke-linecap="butt"/>
<line x1="504.6" y1="107.5" x2="511.2" y2="107.5" stroke="#3a3a3c" stroke-width="0.8" stroke-linecap="butt"/>
<line x1="551.8" y1="107.5" x2="560.3" y2="107.5" stroke="#3a3a3c" stroke-width="0.8" stroke-linecap="butt"/>
<line x1="504.6" y1="114.4" x2="515.8" y2="114.4" stroke="#3a3a3c" stroke-width="0.8" stroke-linecap="butt"/>
<line x1="549.4" y1="114.4" x2="560.3" y2="114.4" stroke="#3a3a3c" stroke-width="0.8" stroke-linecap="butt"/>
<line x1="549.4" y1="125.2" x2="560.3" y2="125.2" stroke="#3a3a3c" stroke-width="0.8" stroke-linecap="butt"/>
<line x1="549.4" y1="130.3" x2="560.3" y2="130.3" stroke="#3a3a3c" stroke-width="0.8" stroke-linecap="butt"/>
<line x1="499" y1="111.4" x2="519.7" y2="111.4" stroke="#231f20" stroke-width="0.9" stroke-dasharray="8,1,1.5,1" stroke-linecap="butt"/>
<line x1="545.3" y1="111.4" x2="578.6" y2="111.4" stroke="#231f20" stroke-width="0.9" stroke-dasharray="8,1,1.5,1" stroke-linecap="butt"/>
<line x1="545.3" y1="128" x2="566" y2="128" stroke="#231f20" stroke-width="0.9" stroke-dasharray="8,1,1.5,1" stroke-linecap="butt"/>
<path d="M503.5,92.2 L513,108 Q515.5,112 515.8,114.9" fill="none" stroke="#231f20" stroke-width="0.9"/>
<path d="M557.5,103.8 Q551,108 549.4,114.9" fill="none" stroke="#231f20" stroke-width="0.9"/>
<line x1="515.8" y1="70" x2="515.8" y2="114.9" stroke="#3a3a3c" stroke-width="0.9" stroke-linecap="butt"/>
<line x1="549.4" y1="70" x2="549.4" y2="114.9" stroke="#3a3a3c" stroke-width="0.9" stroke-linecap="butt"/>
<line x1="515.8" y1="71.8" x2="523.5" y2="71.8" stroke="#3a3a3c" stroke-width="0.9" stroke-linecap="butt"/>
<line x1="542.4" y1="71.8" x2="549.4" y2="71.8" stroke="#3a3a3c" stroke-width="0.9" stroke-linecap="butt"/>
<polygon points="515.8,71.3 521.8,70.55 521.8,73.05 515.8,72.3" fill="#231f20"/>
<polygon points="549.4,72.3 543.4,73.05 543.4,70.55 549.4,71.3" fill="#231f20"/>
<text x="524.6" y="75.5" font-size="10.5" fill="#6d6e71" font-weight="normal" text-anchor="start" textLength="16.2" lengthAdjust="spacingAndGlyphs" stroke="#6d6e71" stroke-width="0.15">Ø18</text>
<text x="504.4" y="92.6" font-size="10.5" fill="#6d6e71" font-weight="normal" text-anchor="start" textLength="10.2" lengthAdjust="spacingAndGlyphs" stroke="#6d6e71" stroke-width="0.15">30</text>
<line x1="495.8" y1="100.3" x2="503.5" y2="92.2" stroke="#3a3a3c" stroke-width="0.8" stroke-linecap="butt"/>
<polygon points="503.36,93.04 499.77,97.91 497.96,96.18 502.64,92.36" fill="#231f20"/>
<line x1="515.8" y1="89.3" x2="527.6" y2="92.5" stroke="#3a3a3c" stroke-width="0.8" stroke-linecap="butt"/>
<polygon points="515.93,88.82 521.92,89.66 521.26,92.08 515.67,89.78" fill="#231f20"/>
<line x1="532.6" y1="94.2" x2="532.6" y2="168" stroke="#231f20" stroke-width="0.8" stroke-dasharray="4,1.2,1,1.2" stroke-linecap="butt"/>
<line x1="490.5" y1="93" x2="490.5" y2="103.8" stroke="#3a3a3c" stroke-width="0.8" stroke-linecap="butt"/>
<polygon points="490,103.8 489.25,97.8 491.75,97.8 491,103.8" fill="#231f20"/>
<line x1="490.5" y1="131" x2="490.5" y2="141" stroke="#3a3a3c" stroke-width="0.8" stroke-linecap="butt"/>
<polygon points="491,131 491.75,137 489.25,137 490,131" fill="#231f20"/>
<text x="485.6" y="120.7" font-size="10.5" fill="#6d6e71" font-weight="normal" text-anchor="start" textLength="10.2" lengthAdjust="spacingAndGlyphs" stroke="#6d6e71" stroke-width="0.15">15</text>
<line x1="576.6" y1="93" x2="576.6" y2="103.8" stroke="#3a3a3c" stroke-width="0.8" stroke-linecap="butt"/>
<polygon points="576.1,103.8 575.35,97.8 577.85,97.8 577.1,103.8" fill="#231f20"/>
<line x1="576.6" y1="111.4" x2="576.6" y2="120" stroke="#3a3a3c" stroke-width="0.8" stroke-linecap="butt"/>
<polygon points="577.1,111.4 577.85,117.4 575.35,117.4 576.1,111.4" fill="#231f20"/>
<text x="573.9" y="130.1" font-size="10.5" fill="#6d6e71" font-weight="normal" text-anchor="start" textLength="5.1" lengthAdjust="spacingAndGlyphs" stroke="#6d6e71" stroke-width="0.15">4</text>
<line x1="504.6" y1="161" x2="504.6" y2="177.8" stroke="#3a3a3c" stroke-width="0.9" stroke-linecap="butt"/>
<line x1="560.5" y1="161" x2="560.5" y2="177.8" stroke="#3a3a3c" stroke-width="0.9" stroke-linecap="butt"/>
<line x1="504.6" y1="175.5" x2="523.6" y2="175.5" stroke="#3a3a3c" stroke-width="0.9" stroke-linecap="butt"/>
<line x1="542.4" y1="175.5" x2="560.5" y2="175.5" stroke="#3a3a3c" stroke-width="0.9" stroke-linecap="butt"/>
<polygon points="504.6,175 510.6,174.25 510.6,176.75 504.6,176" fill="#231f20"/>
<polygon points="560.5,176 554.5,176.75 554.5,174.25 560.5,175" fill="#231f20"/>
<text x="525.5" y="179.2" font-size="10.5" fill="#6d6e71" font-weight="normal" text-anchor="start" textLength="16.9" lengthAdjust="spacingAndGlyphs" stroke="#6d6e71" stroke-width="0.15">30.1</text>
<text x="572.4" y="145.8" font-size="10.5" fill="#6d6e71" font-weight="normal" text-anchor="start" textLength="15.6" lengthAdjust="spacingAndGlyphs" stroke="#6d6e71" stroke-width="0.15">A-A</text>
<line x1="568" y1="148.2" x2="590.9" y2="148.2" stroke="#6d6e71" stroke-width="1.0" stroke-linecap="butt"/>
<text x="572.4" y="161.9" font-size="10.5" fill="#6d6e71" font-weight="normal" text-anchor="start" textLength="61.6" lengthAdjust="spacingAndGlyphs" stroke="#6d6e71" stroke-width="0.15">(SLB-xx lb--BH)</text>
<path d="M504.5,216.4 H520.3 V244.1 H523.5 V272 H504.5 Z M544.8,216.4 H560.9 V272 H541.9 V244.1 H544.8 Z" fill="url(#hatch2)"/>
<rect x="504.5" y="216.4" width="56.4" height="55.6" fill="none" stroke="#231f20" stroke-width="1.1"/>
<line x1="520.3" y1="216.4" x2="520.3" y2="244.1" stroke="#3a3a3c" stroke-width="1.0" stroke-linecap="butt"/>
<line x1="544.8" y1="216.4" x2="544.8" y2="244.1" stroke="#3a3a3c" stroke-width="1.0" stroke-linecap="butt"/>
<line x1="488" y1="244.1" x2="544.8" y2="244.1" stroke="#3a3a3c" stroke-width="1.0" stroke-linecap="butt"/>
<line x1="487.4" y1="216.4" x2="502.5" y2="216.4" stroke="#3a3a3c" stroke-width="0.9" stroke-linecap="butt"/>
<line x1="520.3" y1="244.1" x2="520.3" y2="272" stroke="#3a3a3c" stroke-width="0.8" stroke-linecap="butt"/>
<line x1="544.8" y1="244.1" x2="544.8" y2="272" stroke="#3a3a3c" stroke-width="0.8" stroke-linecap="butt"/>
<polyline points="520.3,244.1 523.5,246.7 523.5,272" fill="none" stroke="#231f20" stroke-width="1.0" stroke-linejoin="miter"/>
<polyline points="544.8,244.1 541.9,246.7 541.9,272" fill="none" stroke="#231f20" stroke-width="1.0" stroke-linejoin="miter"/>
<line x1="523.5" y1="246.7" x2="541.9" y2="246.7" stroke="#3a3a3c" stroke-width="1.0" stroke-linecap="butt"/>
<line x1="532.6" y1="207.3" x2="532.6" y2="290" stroke="#231f20" stroke-width="0.8" stroke-dasharray="4,1.2,1,1.2" stroke-linecap="butt"/>
<line x1="520.3" y1="197.9" x2="520.3" y2="216.4" stroke="#3a3a3c" stroke-width="0.9" stroke-linecap="butt"/>
<line x1="545.1" y1="197.9" x2="545.1" y2="216.4" stroke="#3a3a3c" stroke-width="0.9" stroke-linecap="butt"/>
<line x1="508.9" y1="199.6" x2="520.3" y2="199.6" stroke="#3a3a3c" stroke-width="0.9" stroke-linecap="butt"/>
<polygon points="520.3,200.1 514.3,200.85 514.3,198.35 520.3,199.1" fill="#231f20"/>
<line x1="545.1" y1="199.6" x2="556.5" y2="199.6" stroke="#3a3a3c" stroke-width="0.9" stroke-linecap="butt"/>
<polygon points="545.1,199.1 551.1,198.35 551.1,200.85 545.1,200.1" fill="#231f20"/>
<text x="559.5" y="203.5" font-size="10.5" fill="#6d6e71" font-weight="normal" text-anchor="start" textLength="23.8" lengthAdjust="spacingAndGlyphs" stroke="#6d6e71" stroke-width="0.15">Ø13.5</text>
<line x1="490" y1="201.9" x2="490" y2="216.4" stroke="#3a3a3c" stroke-width="0.8" stroke-linecap="butt"/>
<polygon points="489.5,216.4 488.75,210.4 491.25,210.4 490.5,216.4" fill="#231f20"/>
<line x1="490" y1="244.1" x2="490" y2="258.3" stroke="#3a3a3c" stroke-width="0.8" stroke-linecap="butt"/>
<polygon points="490.5,244.1 491.25,250.1 488.75,250.1 489.5,244.1" fill="#231f20"/>
<text x="486.2" y="232.9" font-size="10.5" fill="#6d6e71" font-weight="normal" text-anchor="start" textLength="9.8" lengthAdjust="spacingAndGlyphs" stroke="#6d6e71" stroke-width="0.15">15</text>
<line x1="520.3" y1="273.6" x2="520.3" y2="289.7" stroke="#3a3a3c" stroke-width="0.9" stroke-linecap="butt"/>
<line x1="544.8" y1="273.6" x2="544.8" y2="289.7" stroke="#3a3a3c" stroke-width="0.9" stroke-linecap="butt"/>
<line x1="520.3" y1="288.4" x2="550.4" y2="288.4" stroke="#3a3a3c" stroke-width="0.9" stroke-linecap="butt"/>
<polygon points="520.3,287.9 526.3,287.15 526.3,289.65 520.3,288.9" fill="#231f20"/>
<polygon points="544.8,288.9 538.8,289.65 538.8,287.15 544.8,287.9" fill="#231f20"/>
<text x="550.5" y="291" font-size="10.5" fill="#6d6e71" font-weight="normal" text-anchor="start" textLength="24.4" lengthAdjust="spacingAndGlyphs" stroke="#6d6e71" stroke-width="0.15">M12 *</text>
<text x="572.4" y="258.6" font-size="10.5" fill="#6d6e71" font-weight="normal" text-anchor="start" textLength="15.3" lengthAdjust="spacingAndGlyphs" stroke="#6d6e71" stroke-width="0.15">B-B</text>
<line x1="568.1" y1="260.5" x2="591.6" y2="260.5" stroke="#6d6e71" stroke-width="1.0" stroke-linecap="butt"/>
<text x="572.4" y="274" font-size="10.5" fill="#6d6e71" font-weight="normal" text-anchor="start" textLength="59.8" lengthAdjust="spacingAndGlyphs" stroke="#6d6e71" stroke-width="0.15">(SLB-xx lb-CM)</text>
<polygon points="86.2,293.3 104.2,290.8 104.2,303.2 86.2,300.3" fill="none" stroke="#231f20" stroke-width="0.95" stroke-linejoin="miter"/>
<line x1="84.4" y1="296.8" x2="121.9" y2="296.8" stroke="#231f20" stroke-width="0.9" stroke-dasharray="7,0.8,1,0.8" stroke-linecap="butt"/>
<circle cx="113.6" cy="296.8" r="5.7" fill="none" stroke="#231f20" stroke-width="0.95"/>
<circle cx="113.6" cy="296.8" r="3.1" fill="none" stroke="#231f20" stroke-width="0.95"/>
<line x1="113.6" y1="289" x2="113.6" y2="304.7" stroke="#3a3a3c" stroke-width="0.8" stroke-linecap="butt"/>
<text x="83.7" y="321.8" font-size="10" fill="#58595b" font-weight="normal" text-anchor="start" textLength="549" lengthAdjust="spacingAndGlyphs" stroke="#58595b" stroke-width="0.15">Mounting bolts for 200 lb to 2500 lb: M12 8.8 / torque 90 Nm; for 5000 lb: M12 10.9 / torque 120 Nm. Torque values assume oiled threads.</text>
<text x="83.6" y="332.5" font-size="10" fill="#58595b" font-weight="normal" text-anchor="start">*</text>
<text x="94.9" y="332.5" font-size="10" fill="#58595b" font-weight="normal" text-anchor="start" textLength="270.5" lengthAdjust="spacingAndGlyphs" stroke="#58595b" stroke-width="0.15">Unified thread 1/2-20 UNF is available (type designation SLB-xx-CU).</text>
<rect x="86" y="392.7" width="7" height="7" fill="#58595b"/>
<text x="98.4" y="400.8" font-size="13.2" fill="#58595b" font-weight="normal" text-anchor="start" textLength="343.2" lengthAdjust="spacingAndGlyphs" stroke="#58595b" stroke-width="0.15">The load cell is provided with a shielded, 4 conductor cable (AWG 24).</text>
<text x="98.4" y="416.9" font-size="13.2" fill="#58595b" font-weight="normal" text-anchor="start" textLength="127.3" lengthAdjust="spacingAndGlyphs" stroke="#58595b" stroke-width="0.15">Cable jacket polyurethane</text>
<rect x="86" y="426.6" width="7" height="7" fill="#58595b"/>
<text x="98.4" y="434.7" font-size="13.2" fill="#58595b" font-weight="normal" text-anchor="start" textLength="64.6" lengthAdjust="spacingAndGlyphs" stroke="#58595b" stroke-width="0.15">Cable length:</text>
<rect x="86" y="444.7" width="7" height="7" fill="#58595b"/>
<text x="98.4" y="452.8" font-size="13.2" fill="#58595b" font-weight="normal" text-anchor="start" textLength="76.6" lengthAdjust="spacingAndGlyphs" stroke="#58595b" stroke-width="0.15">Cable diameter:</text>
<rect x="86" y="462.4" width="7" height="7" fill="#58595b"/>
<text x="98.4" y="470.5" font-size="13.2" fill="#58595b" font-weight="normal" text-anchor="start" textLength="101.4" lengthAdjust="spacingAndGlyphs" stroke="#58595b" stroke-width="0.15">The shield is floating</text>
<text x="98.4" y="487.2" font-size="13.2" fill="#58595b" font-weight="normal" text-anchor="start" textLength="304.2" lengthAdjust="spacingAndGlyphs" stroke="#58595b" stroke-width="0.15">(On request the shield can be connected to the load cell body)</text>
<text x="219.8" y="434.7" font-size="13.2" fill="#58595b" font-weight="normal" text-anchor="start" textLength="19.3" lengthAdjust="spacingAndGlyphs" stroke="#58595b" stroke-width="0.15">3 m</text>
<text x="219.8" y="452.8" font-size="13.2" fill="#58595b" font-weight="normal" text-anchor="start" textLength="28.4" lengthAdjust="spacingAndGlyphs" stroke="#58595b" stroke-width="0.15">5 mm</text>
<line x1="526.8" y1="404.8" x2="489.3" y2="441.5" stroke="#231f20" stroke-width="1.0" stroke-linecap="butt"/>
<rect x="497.15" y="418.85" width="21.8" height="8.6" fill="#fff" stroke="#231f20" stroke-width="1.3" transform="rotate(135.62 508.05 423.15)"/>
<line x1="526.8" y1="404.8" x2="563.7" y2="441.5" stroke="#231f20" stroke-width="1.0" stroke-linecap="butt"/>
<rect x="534.35" y="418.85" width="21.8" height="8.6" fill="#fff" stroke="#231f20" stroke-width="1.3" transform="rotate(44.84 545.25 423.15)"/>
<line x1="489.3" y1="441.5" x2="526.8" y2="478.6" stroke="#231f20" stroke-width="1.0" stroke-linecap="butt"/>
<rect x="497.15" y="455.75" width="21.8" height="8.6" fill="#fff" stroke="#231f20" stroke-width="1.3" transform="rotate(44.69 508.05 460.05)"/>
<line x1="563.7" y1="441.5" x2="526.8" y2="478.6" stroke="#231f20" stroke-width="1.0" stroke-linecap="butt"/>
<rect x="534.35" y="455.75" width="21.8" height="8.6" fill="#fff" stroke="#231f20" stroke-width="1.3" transform="rotate(134.85 545.25 460.05)"/>
<line x1="526.8" y1="404.8" x2="616.5" y2="404.8" stroke="#231f20" stroke-width="1.0" stroke-linecap="butt"/>
<line x1="563.7" y1="441.5" x2="616.5" y2="441.5" stroke="#231f20" stroke-width="1.0" stroke-linecap="butt"/>
<line x1="526.8" y1="478.8" x2="616.5" y2="478.8" stroke="#231f20" stroke-width="1.0" stroke-linecap="butt"/>
<line x1="489.3" y1="441.5" x2="489.3" y2="494.4" stroke="#231f20" stroke-width="1.0" stroke-linecap="butt"/>
<line x1="489.3" y1="494.4" x2="616.5" y2="494.4" stroke="#231f20" stroke-width="1.0" stroke-linecap="butt"/>
<rect x="563.5" y="400.2" width="22.8" height="9.3" fill="#fff" stroke="#231f20" stroke-width="1.3"/>
<rect x="563.5" y="474.2" width="22.8" height="9.3" fill="#fff" stroke="#231f20" stroke-width="1.3"/>
<ellipse cx="600.9" cy="449.5" rx="8.2" ry="60.8" fill="none" stroke="#231f20" stroke-width="1.0" stroke-dasharray="3.6,1.4"/>
<line x1="600.9" y1="510.3" x2="616.5" y2="510.3" stroke="#231f20" stroke-width="1.0" stroke-linecap="butt"/>
<text x="622.5" y="408.2" font-size="11" fill="#58595b" font-weight="normal" text-anchor="start" stroke="#58595b" stroke-width="0.12">+</text>
<text x="631.4" y="408.2" font-size="11" fill="#58595b" font-weight="normal" text-anchor="start" textLength="38.1" lengthAdjust="spacingAndGlyphs" stroke="#58595b" stroke-width="0.12">Excitation</text>
<text x="672.1" y="408.2" font-size="11" fill="#58595b" font-weight="normal" text-anchor="start" textLength="27.6" lengthAdjust="spacingAndGlyphs" stroke="#58595b" stroke-width="0.12">(green)</text>
<text x="622.5" y="445" font-size="11" fill="#58595b" font-weight="normal" text-anchor="start" stroke="#58595b" stroke-width="0.12">+</text>
<text x="631.4" y="445" font-size="11" fill="#58595b" font-weight="normal" text-anchor="start" textLength="24.1" lengthAdjust="spacingAndGlyphs" stroke="#58595b" stroke-width="0.12">Signal</text>
<text x="672.1" y="445" font-size="11" fill="#58595b" font-weight="normal" text-anchor="start" textLength="26.9" lengthAdjust="spacingAndGlyphs" stroke="#58595b" stroke-width="0.12">(white)</text>
<text x="622.5" y="481" font-size="11" fill="#58595b" font-weight="normal" text-anchor="start" stroke="#58595b" stroke-width="0.12">–</text>
<text x="630.3" y="481" font-size="11" fill="#58595b" font-weight="normal" text-anchor="start" textLength="37.6" lengthAdjust="spacingAndGlyphs" stroke="#58595b" stroke-width="0.12">Excitation</text>
<text x="672.1" y="482.2" font-size="11" fill="#58595b" font-weight="normal" text-anchor="start" textLength="26.5" lengthAdjust="spacingAndGlyphs" stroke="#58595b" stroke-width="0.12">(black)</text>
<text x="622.5" y="496.8" font-size="11" fill="#58595b" font-weight="normal" text-anchor="start" stroke="#58595b" stroke-width="0.12">–</text>
<text x="630.3" y="496.8" font-size="11" fill="#58595b" font-weight="normal" text-anchor="start" textLength="24.1" lengthAdjust="spacingAndGlyphs" stroke="#58595b" stroke-width="0.12">Signal</text>
<text x="672.1" y="496.8" font-size="11" fill="#58595b" font-weight="normal" text-anchor="start" textLength="18.3" lengthAdjust="spacingAndGlyphs" stroke="#58595b" stroke-width="0.12">(red)</text>
<text x="629.6" y="512.4" font-size="11" fill="#58595b" font-weight="normal" text-anchor="start" textLength="24.3" lengthAdjust="spacingAndGlyphs" stroke="#58595b" stroke-width="0.12">Shield</text>
<text x="672.1" y="512.4" font-size="11" fill="#58595b" font-weight="normal" text-anchor="start" textLength="30.7" lengthAdjust="spacingAndGlyphs" stroke="#58595b" stroke-width="0.12">(yellow)</text>
<text x="74" y="553.9" font-size="11.2" fill="#58595b" font-weight="normal" text-anchor="start" textLength="73.4" lengthAdjust="spacingAndGlyphs" stroke="#58595b" stroke-width="0.15">A24-Rev5-GB-2(2)</text>
<text x="160.3" y="553.9" font-size="11.2" fill="#58595b" font-weight="normal" text-anchor="start" textLength="272" lengthAdjust="spacingAndGlyphs" stroke="#58595b" stroke-width="0.15">Specifications and dimensions are subject to change without notice.</text>
</svg>
</body></html>
